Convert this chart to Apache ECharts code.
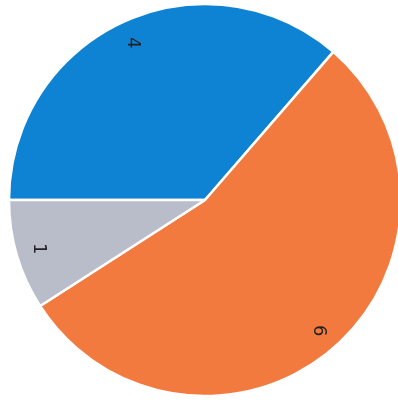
<!DOCTYPE html>
<html>
<head>
<meta charset="utf-8">
<script src="https://cdn.jsdelivr.net/npm/echarts@6/dist/echarts.min.js"></script>
<style>
  html, body { margin: 0; padding: 0; background: #ffffff; }
  #chart { width: 398px; height: 406px; }
</style>
</head>
<body>
<div id="chart"></div>
<script>
// Slice values, clockwise from the left horizontal
const categories = ['A', 'B', 'C'];
const values = [4, 6, 1];
const colors = ['#0e83d3', '#f27a3e', '#b9bdca'];

const chart = echarts.init(document.getElementById('chart'));

const sliceData = categories.map((name, i) => ({
  name: name,
  value: values[i],
  itemStyle: { color: colors[i] }
}));

const labelData = categories.map((name, i) => ({
  name: name,
  value: values[i]
}));

chart.setOption({
  animation: false,
  series: [
    {
      type: 'pie',
      center: [205, 200],
      radius: [0, 196],
      startAngle: 180,
      clockwise: true,
      silent: true,
      label: { show: false },
      labelLine: { show: false },
      itemStyle: { borderColor: '#ffffff', borderWidth: 2.5 },
      data: sliceData
    },
    {
      // transparent ring that only carries the value labels near the rim
      type: 'pie',
      center: [205, 200],
      radius: [144, 196],
      startAngle: 180,
      clockwise: true,
      silent: true,
      itemStyle: { color: 'rgba(0,0,0,0)', borderWidth: 0 },
      label: {
        show: true,
        position: 'inside',
        formatter: '{c}',
        rotate: -90,
        color: '#222222',
        fontFamily: 'DejaVu Sans',
        fontSize: 18
      },
      labelLine: { show: false },
      data: labelData
    }
  ]
});
</script>
</body>
</html>
